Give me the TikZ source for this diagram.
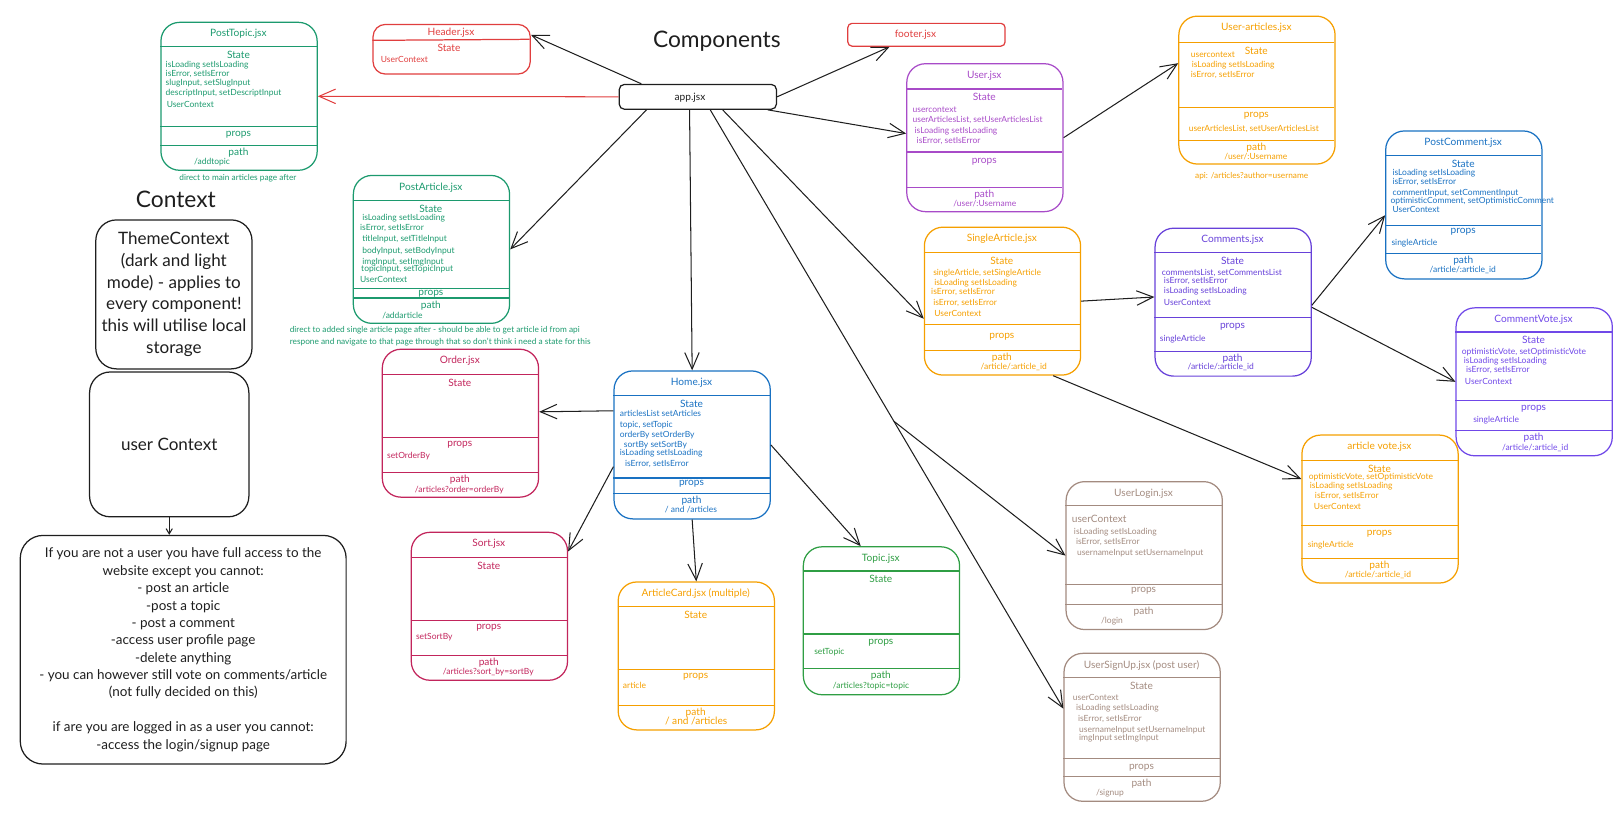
\documentclass[tikz,border=0pt]{standalone}
\usepackage{fontspec}
\setmainfont{Lato}
\usetikzlibrary{arrows.meta,calc}
\definecolor{ink}{HTML}{1E1E1E}
\definecolor{tealc}{HTML}{1C9A6E}
\definecolor{redc}{HTML}{E03E3E}
\definecolor{grapec}{HTML}{A84BC8}
\definecolor{amberc}{HTML}{F59F00}
\definecolor{violetc}{HTML}{6741D9}
\definecolor{violetb}{HTML}{7048E8}
\definecolor{bluec}{HTML}{1971C2}
\definecolor{pinkc}{HTML}{C2255C}
\definecolor{greenc}{HTML}{2F9E44}
\definecolor{brownc}{HTML}{A38B80}
\begin{document}
\begin{tikzpicture}[x=1pt, y=-1pt,
    compbox/.style={draw=#1, line width=1.2pt, rounded corners=18pt, minimum width=151pt, minimum height=143pt, anchor=north west, inner sep=0pt},
    ttl/.style={text=#1, font=\fontsize{9.8}{11}\selectfont, inner sep=0pt},
    txt/.style={text=#1, font=\fontsize{8.2}{9}\selectfont, align=left, anchor=north west, inner sep=0pt},
    small/.style={text=#1, font=\fontsize{8.2}{9}\selectfont, inner sep=0pt},
    note/.style={text=#1, font=\fontsize{8}{12}\selectfont, inner sep=0pt},
    arr/.style={draw=ink, line width=1pt, -{Straight Barb[length=16pt,width=14pt]}},
    ctxbox/.style={draw=ink, line width=1.2pt, anchor=north west, align=center, inner sep=0pt, text=ink}]
        \useasboundingbox (0,0) rectangle (1568,795);

        % component boxes
        \foreach \nm/\col/\x/\y/\hd/\pr/\pl/\pa/\ttl/\st in {
            posttopic/tealc/155/21/24/101/8/120/PostTopic.jsx/State,
            postarticle/tealc/341/169/25/110/5/119/PostArticle.jsx/State,
            order/pinkc/369/337/25/86/7/120/Order.jsx/State,
            home/bluec/593/358/24/104/6/119/Home.jsx/State,
            sort/pinkc/397/514/25/86/7/120/Sort.jsx/State,
            articlecard/amberc/597/562/24/85/7/120/ArticleCard.jsx (multiple)/State,
            topic/greenc/776/528/24/85/8/118/Topic.jsx/State,
            user/grapec/876/61/25/86/9/120/User.jsx/State,
            userarticles/amberc/1139/15/26/89/8/121/User-articles.jsx/State,
            singlearticle/amberc/893/219/25/95/12/120/SingleArticle.jsx/State,
            comments/violetc/1116/220/24/87/9/120/Comments.jsx/State,
            postcomment/bluec/1339/126/24/92/6/119/PostComment.jsx/State,
            commentvote/violetb/1407/297/24/90/8/119/CommentVote.jsx/State,
            articlevote/amberc/1258/420/25/88/8/120/article vote.jsx/State,
            userlogin/brownc/1030/465/24/100/6/119/UserLogin.jsx/~,
            usersignup/brownc/1028/631/24/102/9/120/UserSignUp.jsx (post user)/State}{
            \node[compbox=\col] (\nm) at (\x,\y) {};
            \draw[\col, line width=1.2pt] (\x,{\y+\hd}) -- ++(151,0) (\x,{\y+\pr}) -- ++(151,0) (\x,{\y+\pa}) -- ++(151,0);
            \node[ttl=\col] (\nm-t) at ({\x+75.5},{\y+12}) {\ttl};
            \node[ttl=\col] (\nm-s) at ({\x+75.5},{\y+\hd+8}) {\st};
            \node[ttl=\col] (\nm-p) at ({\x+75.5},{\y+\pr+\pl}) {props};
            \node[ttl=\col] (\nm-h) at ({\x+75.5},{\y+\pa+7}) {path};
        }

        % header, footer, app
        \node[draw=redc, line width=1.2pt, rounded corners=12pt, minimum width=152pt, minimum height=48pt, anchor=north west, inner sep=0pt] (header) at (360,23) {};
        \draw[redc, line width=1.2pt] (360,39) -- (512,38);
        \node[ttl=redc] (header-t) at (436,32) {Header.jsx};
        \node[ttl=redc] (header-s) at (434,46) {State};
        \node[small=redc, anchor=west] (header-st) at (368,57) {UserContext};

        \node[draw=redc, line width=1.2pt, rounded corners=4pt, minimum width=152pt, minimum height=22pt, anchor=north west, inner sep=0pt] (footer) at (819,22) {};
        \node[ttl=redc] (footer-t) at (885,34) {footer.jsx};

        \node[draw=ink, line width=1.2pt, rounded corners=5pt, minimum width=152pt, minimum height=24pt, anchor=north west, inner sep=0pt] (app) at (598,81) {};
        \node[ttl=ink] (app-t) at (667,94) {app.jsx};

        \node[text=ink, font=\fontsize{22}{26}\selectfont] (comp-title) at (693,40) {Components};
        \node[text=ink, font=\fontsize{22}{26}\selectfont] (ctx-title) at (170,193) {Context};

        % box contents
        \node[txt=tealc] (posttopic-st) at (160,59) {isLoading setIsLoading\\isError, setIsError\\[-1pt]slugInput, setSlugInput\\[1pt]descriptInput, setDescriptInput\\[3pt]\hspace*{1pt}UserContext};
        \node[small=tealc] (posttopic-pa) at (205,157) {/addtopic};
        \node[note=tealc] (posttopic-note) at (230,172) {direct to main articles page after};

        \node[txt=tealc] (postarticle-st) at (348,207) {\hspace*{2pt}isLoading setIsLoading\\[1pt]isError, setIsError\\[1pt]\hspace*{2pt}titleInput, setTitleInput\\[3pt]\hspace*{2pt}bodyInput, setBodyInput\\[1pt]\hspace*{2pt}imgInput, setImgInput\\[-2pt]\hspace*{1pt}topicInput, setTopicInput\\[2pt]UserContext};
        \node[small=tealc] (postarticle-pa) at (389,305) {/addarticle};
        \node[note=tealc, align=left, anchor=north west] (postarticle-note) at (280,315) {direct to added single article page after - should be able to get article id from api\\respone and navigate to that page through that so don't think i need a state for this};

        \node[small=pinkc, anchor=west] (order-pr) at (374,441) {setOrderBy};
        \node[small=pinkc] (order-pa) at (444,474) {/articles?order=orderBy};

        \node[txt=bluec] (home-st) at (599,396) {articlesList setArticles\\[2pt]topic, setTopic\\[1pt]orderBy setOrderBy\\\hspace*{4pt}sortBy setSortBy\\[-1pt]isLoading setIsLoading\\[2pt]\hspace*{5pt}isError, setIsError};
        \node[small=bluec] (home-pa) at (668,493) {/ and /articles};

        \node[small=pinkc, anchor=west] (sort-pr) at (402,616) {setSortBy};
        \node[small=pinkc] (sort-pa) at (472,650) {/articles?sort\_by=sortBy};

        \node[small=amberc, anchor=west] (articlecard-pr) at (602,663) {article};
        \node[ttl=amberc] (articlecard-pa) at (673,697) {/ and /articles};

        \node[small=greenc, anchor=west] (topic-pr) at (787,630) {setTopic};
        \node[small=greenc] (topic-pa) at (842,663) {/articles?topic=topic};

        \node[txt=grapec] (user-st) at (882,103) {usercontext\\[1pt]userArticlesList, setUserArticlesList\\[1pt]\hspace*{2pt}isLoading setIsLoading\\[1pt]\hspace*{4pt}isError, setIsError};
        \node[small=grapec] (user-pa) at (952,197) {/user/:Username};

        \node[txt=amberc] (userarticles-st) at (1151,50) {usercontext\\[1pt]\hspace*{1pt}isLoading setIsLoading\\isError, setIsError};
        \node[small=amberc, anchor=west] (userarticles-pr) at (1149,125) {userArticlesList, setUserArticlesList};
        \node[small=amberc] (userarticles-pa) at (1214,151) {/user/:Username};
        \node[note=amberc] (userarticles-note) at (1210,170) {api: /articles?author=username};

        \node[txt=amberc] (singlearticle-st) at (900,260) {\hspace*{2pt}singleArticle, setSingleArticle\\[1pt]\hspace*{3pt}isLoading setIsLoading\\[-1pt]isError, setIsError\\[2pt]\hspace*{2pt}isError, setIsError\\[2pt]\hspace*{3pt}UserContext};
        \node[small=amberc] (singlearticle-pa) at (980,355) {/article/:article\_id};

        \node[txt=violetc] (comments-st) at (1123,260) {commentsList, setCommentsList\\[-1pt]\hspace*{2pt}isError, setIsError\\[1pt]\hspace*{2pt}isLoading setIsLoading\\[2pt]\hspace*{2pt}UserContext};
        \node[small=violetc, anchor=west] (comments-pr) at (1121,328) {singleArticle};
        \node[small=violetc] (comments-pa) at (1180,355) {/article/:article\_id};

        \node[txt=bluec] (postcomment-st) at (1344,163) {\hspace*{2pt}isLoading setIsLoading\\\hspace*{2pt}isError, setIsError\\[2pt]\hspace*{2pt}commentInput, setCommentInput\\[-2pt]optimisticComment, setOptimisticComment\\\hspace*{2pt}UserContext};
        \node[small=bluec, anchor=west] (postcomment-pr) at (1345,235) {singleArticle};
        \node[small=bluec] (postcomment-pa) at (1414,261) {/article/:article\_id};

        \node[txt=violetb] (commentvote-st) at (1413,336) {optimisticVote, setOptimisticVote\\\hspace*{2pt}isLoading setIsLoading\\\hspace*{4pt}isError, setIsError\\[2pt]\hspace*{3pt}UserContext};
        \node[small=violetb, anchor=west] (commentvote-pr) at (1424,406) {singleArticle};
        \node[small=violetb] (commentvote-pa) at (1484,433) {/article/:article\_id};

        \node[txt=amberc] (articlevote-st) at (1265,457) {optimisticVote, setOptimisticVote\\\hspace*{1pt}isLoading setIsLoading\\[1pt]\hspace*{6pt}isError, setIsError\\[1pt]\hspace*{5pt}UserContext};
        \node[small=amberc, anchor=west] (articlevote-pr) at (1264,527) {singleArticle};
        \node[small=amberc] (articlevote-pa) at (1332,556) {/article/:article\_id};

        \node[ttl=brownc, anchor=west] (userlogin-uc) at (1036,502) {userContext};
        \node[txt=brownc] (userlogin-st) at (1038,510) {isLoading setIsLoading\\[1pt]\hspace*{2pt}isError, setIsError\\[2pt]\hspace*{3pt}usernameInput setUsernameInput};
        \node[small=brownc] (userlogin-pa) at (1075,600) {/login};

        \node[txt=brownc] (usersignup-st) at (1037,671) {userContext\\[1pt]\hspace*{3pt}isLoading setIsLoading\\[1pt]\hspace*{5pt}isError, setIsError\\[2pt]\hspace*{6pt}usernameInput setUsernameInput\\[-1pt]\hspace*{6pt}imgInput setImgInput};
        \node[small=brownc] (usersignup-pa) at (1073,767) {/signup};

        % context
        \node[ctxbox, rounded corners=20pt, minimum width=151pt, minimum height=144pt, font=\fontsize{16.5}{21}\selectfont] (theme) at (92,212) {ThemeContext\\(dark and light\\mode) - applies to\\every component!\\this will utilise local\\storage};
        \node[ctxbox, rounded corners=20pt, minimum width=154pt, minimum height=140pt, font=\fontsize{16.5}{21}\selectfont] (userctx) at (86,359) {user Context};
        \node[ctxbox, rounded corners=22pt, minimum width=315pt, minimum height=221pt, font=\fontsize{13}{16.8}\selectfont] (rules) at (19,517) {If you are not a user you have full access to the\\website except you cannot:\\- post an article\\-post a topic\\- post a comment\\-access user profile page\\-delete anything\\- you can however still vote on comments/article\\(not fully decided on this)\\[16.8pt]if are you are logged in as a user you cannot:\\-access the login/signup page};
        \draw[draw=ink, line width=1pt, -{Straight Barb[length=5pt,width=6pt]}] (userctx.south) -- (userctx.south |- rules.north);

        % arrows
        \draw[arr] ([xshift=22pt]app.north west) -- ([yshift=14pt]header.east);
        \draw[arr, draw=redc] (app.west) -- (posttopic.east);
        \draw[arr] (app.east) -- ([xshift=41pt]footer.south west);
        \draw[arr] ([xshift=-9pt]app.south east) -- ([yshift=4pt]user.west);
        \draw[arr] ([xshift=27pt]app.south west) -- (postarticle.east);
        \draw[arr] ([xshift=-8pt]app.south) -- (home.north);
        \draw[arr] ([xshift=24pt]app.south) -- ([yshift=-17pt]singlearticle.west);
        \coordinate (fork) at ($([xshift=12pt]app.south)!0.52!([yshift=18pt]usersignup.west)$);
        \draw[arr] ([xshift=12pt]app.south) -- ([yshift=18pt]usersignup.west);
        \draw[arr] (fork) -- (userlogin.west);
        \draw[arr] (user.east) -- ([yshift=26pt]userarticles.west);
        \draw[arr] (singlearticle.east) -- ([yshift=5pt]comments.west);
        \draw[arr] ([yshift=-3pt]comments.east) -- ([yshift=-10pt]postcomment.west);
        \draw[arr] ([yshift=-5pt]comments.east) -- (commentvote.west);
        \draw[arr] ([xshift=49pt]singlearticle.south) -- ([yshift=29pt]articlevote.west);
        \draw[arr] ([yshift=33pt]home.west) -- ([yshift=11pt]order.east);
        \draw[arr] ([yshift=-21pt]home.west) -- ([yshift=53pt]sort.east);
        \draw[arr] (home.south) -- (articlecard.north);
        \draw[arr] (home.east) -- ([xshift=-20pt]topic.north);
\end{tikzpicture}
\end{document}
